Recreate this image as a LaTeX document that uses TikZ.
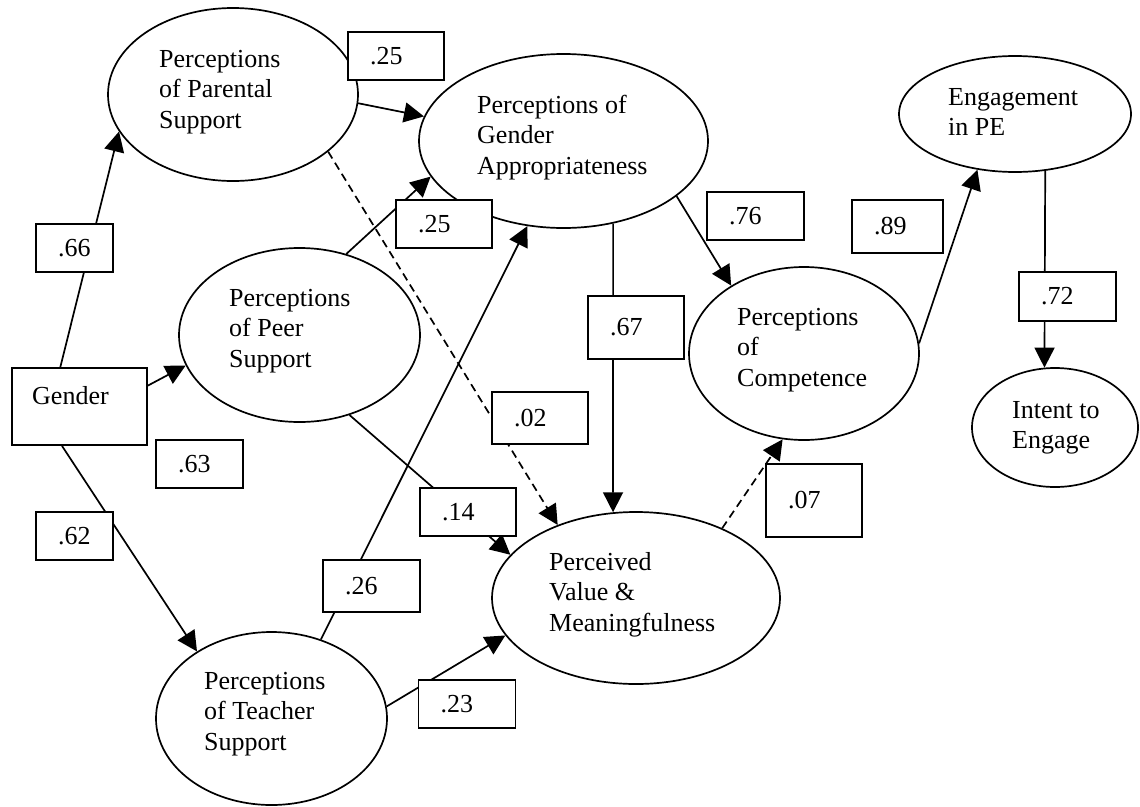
\documentclass[tikz,border=0pt]{standalone}
\usepackage{fontspec}
\setmainfont{Liberation Serif}
\usetikzlibrary{shapes.geometric,arrows.meta}
\begin{document}
\begin{tikzpicture}[x=1pt,y=-1pt,
  ell/.style={draw, ellipse, line width=1.7pt, inner sep=0pt},
  gbox/.style={draw, rectangle, line width=1.7pt, inner sep=0pt},
  txt/.style={anchor=base west, align=left, inner sep=0pt, font=\fontsize{26}{30.5}\selectfont},
  lbl/.style={draw, fill=white, line width=1.7pt, inner xsep=22pt, inner ysep=0pt, align=left, font=\fontsize{26}{30.5}\selectfont},
  arr/.style={line width=1.7pt, -{Triangle[length=20pt,width=20pt]}},
  darr/.style={arr, dash pattern=on 8pt off 5pt}]
\useasboundingbox (0,0) rectangle (1140,806);

% ellipses and box
\node[ell, minimum width=250pt, minimum height=173pt] (par) at (233,94.5) {};
\node[ell, minimum width=289pt, minimum height=174pt] (ga) at (563.5,141) {};
\node[ell, minimum width=241pt, minimum height=174pt] (peer) at (299.5,335) {};
\node[ell, minimum width=231pt, minimum height=173pt] (teach) at (271.5,718.5) {};
\node[ell, minimum width=288pt, minimum height=172pt] (val) at (636,598) {};
\node[ell, minimum width=230pt, minimum height=173pt] (comp) at (804,353.5) {};
\node[ell, minimum width=232pt, minimum height=116pt] (eng) at (1015,114) {};
\node[ell, minimum width=166pt, minimum height=119pt] (int) at (1055,427.5) {};
\node[gbox, minimum width=135pt, minimum height=77pt] (gen) at (79.5,406.5) {};

% texts (anchored at the baseline of the last line)
\node[txt] (tpar) at (159,128) {Perceptions\\of Parental\\Support};
\node[txt] (tga) at (477,174) {Perceptions of\\Gender\\Appropriateness};
\node[txt] (tpeer) at (229,367) {Perceptions\\of Peer\\Support};
\node[txt] (tteach) at (204,750) {Perceptions\\of Teacher\\Support};
\node[txt] (tval) at (549,631) {Perceived\\Value \&\\Meaningfulness};
\node[txt] (tcomp) at (737,386) {Perceptions\\of\\Competence};
\node[txt] (teng) at (948,135.5) {Engagement\\in PE};
\node[txt] (tint) at (1012,448.5) {Intent to\\Engage};
\node[txt] (tgen) at (32,404) {Gender};

% connectors
\draw[arr] (gen.116.9) -- (par.198.4);
\draw[arr] (gen.17.7) -- (peer.195.4);
\draw[arr] (gen.246.8) -- (teach.138.9);
\draw[arr] (par.-4.5) -- (ga.170.9);
\draw[darr] (par.-31.8) -- (val.137.4);
\draw[arr] (peer.-58.8) -- (val.161.7);
\draw[arr] (peer.60.9) -- (ga.195.8);
\draw[arr] (teach.58.7) -- (ga.247.3);
\draw[arr] (teach.6.6) -- (val.196.2);
\draw[arr] (ga.-59.4) -- (val.105.8);
\draw[arr] (ga.-26.3) -- (comp.137.9);
\draw[darr] (val.39.5) -- (comp.256.7);
\draw[arr] (comp.5.2) -- (eng.236.3);
\draw[arr] (eng.-62.6) -- (int.100.6);

% coefficient labels
\node[lbl, text width=52pt, minimum height=48pt] (l25a) at (396,56) {.25};
\node[lbl, text width=33pt, minimum height=48pt] (l66) at (74.5,248) {.66};
\node[lbl, text width=52pt, minimum height=48pt] (l25b) at (444,224) {.25};
\node[lbl, text width=43pt, minimum height=48pt] (l63) at (199.5,464) {.63};
\node[lbl, text width=33pt, minimum height=48pt] (l62) at (74.5,536) {.62};
\node[lbl, text width=52pt, minimum height=48pt] (l14) at (468,512) {.14};
\node[lbl, text width=52pt, minimum height=52pt] (l02) at (540,418) {.02};
\node[lbl, text width=52pt, minimum height=63pt] (l67) at (636,327.5) {.67};
\node[lbl, text width=52pt, minimum height=73pt] (l07) at (814,500.5) {.07};
\node[lbl, text width=53pt, minimum height=48pt] (l76) at (755.5,216) {.76};
\node[lbl, text width=47pt, minimum height=53pt] (l89) at (897.5,226.5) {.89};
\node[lbl, text width=53pt, minimum height=49pt] (l72) at (1067.5,296.5) {.72};
\node[lbl, text width=53pt, minimum height=52pt] (l26) at (371.5,586) {.26};
\node[lbl, text width=53pt, minimum height=48pt] (l23) at (467,704) {.23};
\end{tikzpicture}
\end{document}
